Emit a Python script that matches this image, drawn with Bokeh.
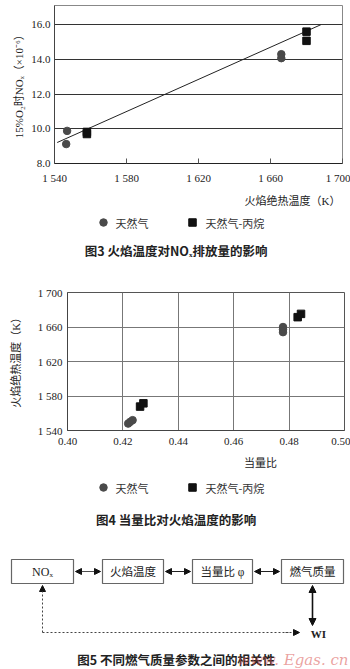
import math
from bokeh.plotting import figure
from bokeh.models import Range1d, FixedTicker, Arrow, NormalHead
from bokeh.layouts import column, row
from bokeh.embed import file_html
from bokeh.resources import INLINE
from bokeh.core.properties import value

# ---------------- data: Fig.3 (flame temperature vs NOx) ----------------
ng_temp = [1546.5, 1547.0, 1666.0, 1666.0]
ng_nox = [9.12, 9.88, 14.30, 14.07]
ngp_temp = [1558.0, 1558.0, 1680.0, 1680.0]
ngp_nox = [9.70, 9.82, 15.60, 15.07]
fit_temp = [1541.5, 1688.0]
fit_nox = [9.21, 16.0]
f3_xticks = [1540, 1580, 1620, 1660, 1700]
f3_xtick_labels = ["1 540", "1 580", "1 620", "1 660", "1 700"]
f3_yticks = [8, 10, 12, 14, 16]
f3_ytick_labels = ["8.0", "10.0", "12.0", "14.0", "16.0"]

# ---------------- data: Fig.4 (equivalence ratio vs flame temperature) ----------------
ng_phi = [0.4219, 0.4226, 0.4235, 0.4778, 0.4778, 0.4778]
ng_tad = [1548.0, 1550.0, 1552.0, 1654.0, 1657.0, 1660.0]
ngp_phi = [0.4262, 0.4274, 0.4831, 0.4843]
ngp_tad = [1567.7, 1571.5, 1671.4, 1675.2]
f4_xticks = [0.40, 0.42, 0.44, 0.46, 0.48, 0.50]
f4_xtick_labels = ["0.40", "0.42", "0.44", "0.46", "0.48", "0.50"]
f4_yticks = [1540, 1580, 1620, 1660, 1700]
f4_ytick_labels = ["1 540", "1 580", "1 620", "1 660", "1 700"]

series_names = ["天然气", "天然气-丙烷"]
f3_xlabel = "火焰绝热温度（K）"
f3_ylabel = "15%O₂时NOₓ（×10⁻⁶）"
f4_xlabel = "当量比"
f4_ylabel = "火焰绝热温度（K）"

# ---------------- Fig.5 diagram texts ----------------
box_labels = ["NOₓ", "火焰温度", "当量比 φ", "燃气质量"]
wi_label = "WI"

captions = ["图3  火焰温度对NOₓ排放量的影响", "图4  当量比对火焰温度的影响",
            "图5  不同燃气质量参数之间的相关性"]
watermark = "www. Egas. cn"

SERIF_CJK = "Liberation Serif, Noto Sans CJK SC"
CJK = "Noto Sans CJK SC"
CIRCLE_C = "#4a4a4a"
SQUARE_C = "#111111"
TXT = "#222222"


def blank(width, y_top, y_bottom):
    """A plain drawing surface whose y coordinates are page pixels."""
    p = figure(width=width, height=y_bottom - y_top, output_backend="svg",
               toolbar_location=None, x_range=Range1d(0, width),
               y_range=Range1d(y_bottom, y_top), min_border=0,
               x_axis_location=None, y_axis_location=None)
    p.grid.visible = False
    p.outline_line_color = None
    p.background_fill_color = "white"
    p.border_fill_color = "white"
    return p


def ylabel_fig(width, y_top, y_bottom, text, cx, cy):
    p = blank(width, y_top, y_bottom)
    p.text(x=[cx], y=[cy], text=[text], angle=math.pi / 2, text_align="center",
           text_baseline="middle", text_font=value(SERIF_CJK),
           text_font_size="11px", text_color=TXT)
    return p


def style_axes(p):
    p.background_fill_color = "white"
    p.border_fill_color = "white"
    for ax in (p.xaxis, p.yaxis):
        ax.major_label_text_font = "Liberation Serif"
        ax.major_label_text_font_size = "11px"
        ax.major_label_text_color = TXT
        ax.minor_tick_line_color = None


def strip(y_top, y_bottom, xlabel, xlabel_x, xlabel_align, xlabel_y,
          legend_y, caption, caption_y):
    p = blank(350, y_top, y_bottom)
    p.text(x=[xlabel_x], y=[xlabel_y], text=[xlabel], text_align=xlabel_align,
           text_baseline="middle", text_font=value(SERIF_CJK),
           text_font_size="11px", text_color=TXT)
    # legend keys
    p.scatter([103], [legend_y], marker="circle", size=7.5,
              fill_color=CIRCLE_C, line_color=CIRCLE_C)
    p.scatter([192], [legend_y], marker="square", size=7.5,
              fill_color=SQUARE_C, line_color=SQUARE_C)
    p.text(x=[115, 205], y=[legend_y, legend_y], text=series_names,
           text_align="left", text_baseline="middle", text_font=value(CJK),
           text_font_size="11px", text_color="#333")
    p.text(x=[177], y=[caption_y], text=[caption], text_align="center",
           text_baseline="middle", text_font=value(CJK), text_font_style="bold",
           text_font_size="12.5px", text_color=TXT)
    return p


# ================= Figure 3 chart (page y 0..190) =================
YL1 = 26
p1 = figure(width=350 - YL1, height=190, output_backend="svg", toolbar_location=None,
            x_range=Range1d(1540, 1700), y_range=Range1d(8, 8 + 158 / 17.35),
            min_border_left=54 - YL1, min_border_right=8, min_border_top=5,
            min_border_bottom=27)
style_axes(p1)
p1.outline_line_color = "#888"
p1.xgrid.visible = False
p1.ygrid.grid_line_color = "#333"
p1.ygrid.grid_line_width = 1.2
p1.xaxis.ticker = FixedTicker(ticks=f3_xticks)
p1.xaxis.major_label_overrides = dict(zip(f3_xticks, f3_xtick_labels))
p1.yaxis.ticker = FixedTicker(ticks=f3_yticks)
p1.yaxis.major_label_overrides = dict(zip(f3_yticks, f3_ytick_labels))
p1.xaxis.axis_line_color = "#222"
p1.xaxis.major_tick_in = 5
p1.xaxis.major_tick_out = 0
p1.xaxis.major_tick_line_color = "#555"
p1.xaxis.major_label_standoff = 8
p1.yaxis.axis_line_color = "#444"
p1.yaxis.major_tick_in = 0
p1.yaxis.major_tick_out = 0
p1.yaxis.major_label_standoff = 4

p1.line(fit_temp, fit_nox, line_color="#222", line_width=1)
p1.scatter(ng_temp, ng_nox, marker="circle", size=7.5,
           fill_color=CIRCLE_C, line_color=CIRCLE_C)
p1.scatter(ngp_temp, ngp_nox, marker="square", size=7.5,
           fill_color=SQUARE_C, line_color=SQUARE_C)
yl1 = ylabel_fig(YL1, 0, 190, f3_ylabel, 18, 94)

s1 = strip(190, 285, f3_xlabel, 340, "right", 200, 222, captions[0], 250)

# ================= Figure 4 chart (page y 285..455) =================
YL2 = 27
p2 = figure(width=350 - YL2, height=170, output_backend="svg", toolbar_location=None,
            x_range=Range1d(0.40, 0.50), y_range=Range1d(1540, 1700),
            min_border_left=67 - YL2, min_border_right=6, min_border_top=7,
            min_border_bottom=25)
style_axes(p2)
p2.outline_line_color = "#555"
p2.xgrid.grid_line_color = "#777"
p2.ygrid.grid_line_color = "#777"
p2.xaxis.ticker = FixedTicker(ticks=f4_xticks)
p2.xaxis.major_label_overrides = dict(zip(f4_xticks, f4_xtick_labels))
p2.yaxis.ticker = FixedTicker(ticks=f4_yticks)
p2.yaxis.major_label_overrides = dict(zip(f4_yticks, f4_ytick_labels))
for ax in (p2.xaxis, p2.yaxis):
    ax.axis_line_color = "#444"
    ax.major_tick_in = 0
    ax.major_tick_out = 0
p2.xaxis.major_label_standoff = 7
p2.yaxis.major_label_standoff = 5

p2.scatter(ng_phi, ng_tad, marker="circle", size=7.5,
           fill_color=CIRCLE_C, line_color=CIRCLE_C)
p2.scatter(ngp_phi, ngp_tad, marker="square", size=7.5,
           fill_color=SQUARE_C, line_color=SQUARE_C)
yl2 = ylabel_fig(YL2, 285, 455, f4_ylabel, 15, 368)

s2 = strip(455, 535, f4_xlabel, 260, "center", 462, 487, captions[1], 519)

# ================= Figure 5 diagram (page y 535..669) =================
p3 = blank(350, 535, 669)
box_left = [11, 102, 192, 281]
box_right = [73, 163, 252, 343]
box_top = 559
box_bottom = 583
box_mid = 571
p3.quad(left=box_left, right=box_right, top=[box_top] * 4, bottom=[box_bottom] * 4,
        fill_color="white", line_color="#666", line_width=1.2)
box_cx = [(a + b) / 2 for a, b in zip(box_left, box_right)]
p3.text(x=box_cx[:1], y=[box_mid], text=box_labels[:1], text_align="center",
        text_baseline="middle", text_font=value("Liberation Serif"),
        text_font_size="12px", text_color=TXT)
p3.text(x=box_cx[1:], y=[box_mid] * 3, text=box_labels[1:], text_align="center",
        text_baseline="middle", text_font=value(SERIF_CJK),
        text_font_size="11.5px", text_color=TXT)


def head(size=6):
    return NormalHead(size=size, fill_color="#111", line_color="#111")


for i in range(3):
    p3.add_layout(Arrow(start=head(), end=head(),
                        x_start=box_right[i] + 2, y_start=box_mid,
                        x_end=box_left[i + 1] - 2, y_end=box_mid,
                        line_color="#222", line_width=1.2 if i else 0.8))
p3.add_layout(Arrow(start=head(7), end=head(7),
                    x_start=312, y_start=585, x_end=312, y_end=625,
                    line_color="#111", line_width=1.6))
p3.line([42, 290], [632, 632], line_color="#444", line_width=1, line_dash="2 2")
p3.add_layout(Arrow(end=head(), x_start=42, y_start=632, x_end=42, y_end=585,
                    line_color="#444", line_width=1, line_dash="2 2"))
p3.add_layout(Arrow(end=head(), x_start=285, y_start=632, x_end=299, y_end=632,
                    line_color="#444", line_width=1, line_dash="2 2"))
p3.text(x=[318], y=[633], text=[wi_label], text_align="center",
        text_baseline="middle", text_font=value("Liberation Serif"),
        text_font_size="11px", text_font_style="bold", text_color=TXT)
p3.text(x=[177], y=[659], text=[captions[2]], text_align="center",
        text_baseline="middle", text_font=value(CJK), text_font_style="bold",
        text_font_size="12.5px", text_color=TXT)
p3.text(x=[348], y=[659], text=[watermark], text_align="right",
        text_baseline="middle", text_font=value("DejaVu Serif"),
        text_font_style="italic", text_font_size="15px",
        text_color="#d9534f", text_alpha=0.55)

layout = column(row(yl1, p1, spacing=0), s1, row(yl2, p2, spacing=0), s2, p3,
                spacing=0)
open("out.html", "w").write(file_html(layout, INLINE))
